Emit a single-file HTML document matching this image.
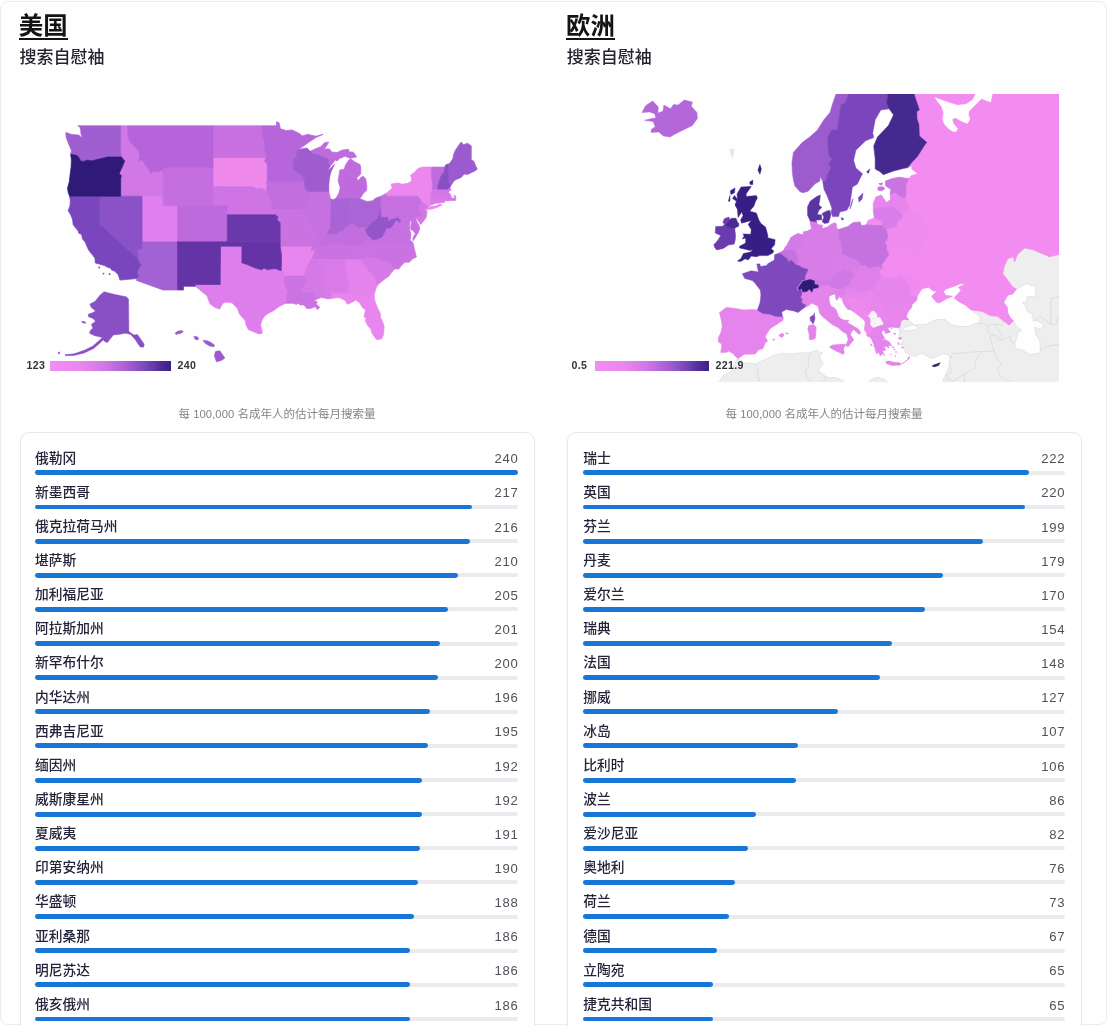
<!DOCTYPE html>
<html lang="zh"><head><meta charset="utf-8"><title>搜索自慰袖 – 美国 / 欧洲</title>
<style>
html,body{margin:0;padding:0;background:#fff;}
body{width:1108px;height:1026px;overflow:hidden;position:relative;font-family:"Liberation Sans","Noto Sans CJK SC",sans-serif;}
.page{position:absolute;left:0;top:0;width:1108px;height:1026px;overflow:hidden;background:#fefefe;}
.page:before{content:"";position:absolute;left:0;top:0.5px;width:1106.5px;height:1024.3px;border:1px solid #ededf0;border-radius:8px;box-sizing:border-box;}
.zh{position:absolute;display:block;color:#23233a;font-weight:500;white-space:nowrap;overflow:visible;line-height:1;font-family:"Liberation Sans","Noto Sans CJK SC",sans-serif;}
.zh.title{color:#141414;font-weight:bold;}
.zh.sub{color:#24242e;}
.zhi{position:relative;display:inline-block;color:#858588;white-space:nowrap;overflow:visible;line-height:1;vertical-align:top;font-family:"Liberation Sans","Noto Sans CJK SC",sans-serif;}
.uline{position:absolute;height:2.2px;background:#141414;}
.cap{position:absolute;text-align:center;white-space:nowrap;color:#858588;font-size:11.2px;line-height:11.5px;height:12px;}
.capn{display:inline-block;vertical-align:top;letter-spacing:0.1px;}
.card{position:absolute;box-sizing:border-box;border:1px solid #e6e8ec;border-radius:9px;background:#fff;box-shadow:0 1px 2px rgba(0,0,0,0.03);}
.num{position:absolute;text-align:right;font-size:13.1px;line-height:14px;color:#505058;letter-spacing:0.75px;margin-right:-0.75px;}
.track{position:absolute;height:4px;border-radius:2px;background:#e9ebee;}
.track i{position:absolute;left:0;top:-0.45px;height:4.9px;border-radius:2.45px;background:#1876d7;display:block;}
.lgbar{position:absolute;height:10px;background:linear-gradient(90deg,#f28ef1 0%,#ea87ee 25%,#d277e5 45%,#b566d9 58%,#9556ca 70%,#7342b4 81%,#522e9c 91%,#3a1f84 100%);}
.lgt{position:absolute;font-size:10.6px;line-height:12px;font-weight:bold;color:#333338;letter-spacing:0.35px;white-space:nowrap;}
svg.map{position:absolute;overflow:hidden;}
.blur{filter:blur(0.55px);}

</style></head>
<body>
<div class="page blur">
<span class="zh title" style="left:18.80px;top:14.00px;width:48.80px;height:24.40px;font-size:24.40px">美国</span>
<div class="uline" style="left:18.8px;top:37.6px;width:48.8px"></div>
<span class="zh sub" style="left:19.40px;top:49.40px;width:85.25px;height:17.05px;font-size:17.05px">搜索自慰袖</span>
<svg class="map" style="left:0;top:80px" width="554" height="300" viewBox="0 80 554 300"><g stroke-width="0.7" stroke-linejoin="round">
<path d="M266.4,157.6L213.1,157.6L213.1,167.1L213.1,186.6L252.6,186.7L256.9,188.8L261.9,188.1L265.4,190.5L267.2,191.5L265.9,189.0L267.2,186.2L266.1,181.8L267.2,181.8L267.2,164.1L264.4,161.1Z" fill="#ef8aec" stroke="#ef8aec" aria-label="SD"/>
<path d="M386.0,193.6L392.2,188.1L391.1,184.0L398.6,183.1L402.1,184.2L407.8,183.3L411.4,181.3L411.4,176.9L410.3,175.5L414.2,172.5L417.8,168.6L422.1,167.1L431.7,167.1L431.3,171.5L431.3,176.9L432.4,180.8L432.3,189.0L430.6,195.7L430.6,202.8L429.0,204.6L429.6,205.6L428.5,207.4L432.0,206.3L437.0,205.8L439.2,204.2L442.2,204.9L437.7,207.2L432.0,209.0L427.4,209.6L426.9,208.4L427.8,205.6L422.1,202.2L419.4,198.3L417.4,196.2L386.0,196.2Z" fill="#ec87ef" stroke="#ec87ef" aria-label="NY"/>
<path d="M315.3,250.5L310.5,250.5L312.1,246.2L280.2,246.2L281.6,255.7L281.2,270.8L284.4,271.5L284.4,276.1L304.8,276.1L305.3,270.3L306.4,266.9L308.9,263.5L311.0,259.2L312.4,258.3L313.5,254.4Z" fill="#e985ee" stroke="#e985ee" aria-label="AR"/>
<path d="M348.7,292.7L349.7,295.2L368.7,296.3L369.7,297.9L370.5,294.4L374.0,295.0L375.1,301.7L377.6,308.2L380.4,313.4L380.4,317.0L382.9,322.5L384.1,326.5L383.6,334.3L381.5,339.0L376.5,339.6L372.2,333.6L370.8,328.9L368.0,326.1L365.1,320.2L366.5,318.2L364.0,317.0L365.5,309.8L362.3,307.4L360.1,303.3L355.9,300.1L353.0,301.7L348.7,304.1L346.6,303.5L345.9,301.3L343.8,299.7L338.8,297.6L334.5,298.1L330.9,298.6L331.7,295.6L330.2,292.7Z" fill="#e985ee" stroke="#e985ee" aria-label="FL"/>
<path d="M344.5,259.2L353.6,259.2L362.3,259.2L360.5,261.7L364.0,263.9L366.2,267.7L368.7,271.1L373.7,275.7L375.1,279.9L376.5,283.7L378.3,284.2L376.2,287.8L375.1,291.5L374.0,295.0L370.5,294.4L369.7,297.9L368.7,296.3L349.7,295.2L348.7,292.7L348.0,287.8L349.1,282.0L347.5,277.4Z" fill="#e483ec" stroke="#e483ec" aria-label="GA"/>
<path d="M142.0,196.2L142.0,241.8L177.5,241.8L177.5,205.6L163.3,205.6L163.3,196.2Z" fill="#e07fef" stroke="#e07fef" aria-label="UT"/>
<path d="M220.6,246.2L241.9,246.2L241.9,262.9L247.6,264.7L252.6,266.9L256.9,268.6L261.9,269.8L264.0,268.1L267.6,269.8L271.1,269.0L275.4,268.7L281.2,270.8L284.4,271.5L284.4,276.1L284.4,284.5L287.9,291.1L286.8,296.0L286.8,300.1L285.7,303.3L279.7,306.2L276.8,308.2L274.7,310.0L269.0,313.0L264.7,315.8L261.9,320.2L260.5,324.9L261.9,330.4L262.2,333.2L259.0,333.9L254.8,332.2L248.3,329.6L245.9,324.5L245.5,321.0L239.8,314.6L237.3,308.2L232.0,302.8L225.6,302.0L222.7,303.5L219.5,309.2L213.5,306.6L209.9,303.7L207.1,296.0L199.2,289.4L195.4,286.3L194.8,284.5L220.2,284.5Z" fill="#de7eec" stroke="#de7eec" aria-label="TX"/>
<path d="M326.0,259.2L344.5,259.2L347.5,277.4L349.1,282.0L348.0,287.8L348.7,292.7L330.2,292.7L331.7,295.6L330.9,298.6L327.7,298.9L326.3,298.5L324.5,298.1L324.0,285.3L326.7,260.0Z" fill="#d87be8" stroke="#d87be8" aria-label="AL"/>
<path d="M429.6,205.6L429.0,204.6L430.6,202.8L430.6,195.7L442.7,196.0L442.4,202.6L439.2,203.0L434.9,203.2L433.5,204.0Z" fill="#d87be8" stroke="#d87be8" aria-label="CT"/>
<path d="M442.4,202.6L442.7,196.0L445.7,196.0L447.6,200.9L446.6,200.9L445.6,199.5L444.9,202.1Z" fill="#d87be8" stroke="#d87be8" aria-label="RI"/>
<path d="M311.0,259.2L326.0,259.2L326.7,260.0L324.0,285.3L324.5,298.1L321.0,297.6L316.3,299.4L314.2,295.6L315.1,292.7L301.7,292.7L302.5,287.8L305.3,283.7L306.4,280.3L304.8,276.1L305.3,270.3L306.4,266.9L308.9,263.5Z" fill="#d579e7" stroke="#d579e7" aria-label="MS"/>
<path d="M362.3,259.2L367.3,257.5L376.9,257.9L377.7,258.3L378.8,260.7L386.7,260.9L394.7,268.9L390.7,273.6L389.0,276.1L385.1,278.8L381.1,282.0L378.3,284.2L376.5,283.7L375.1,279.9L373.7,275.7L368.7,271.1L366.2,267.7L364.0,263.9L360.5,261.7Z" fill="#d579e7" stroke="#d579e7" aria-label="SC"/>
<path d="M120.7,125.8L120.6,152.8L121.5,157.0L123.0,159.1L124.7,161.1L123.0,165.1L122.0,167.6L119.8,172.0L119.3,174.0L121.4,175.5L120.7,178.6L120.7,196.2L142.0,196.2L163.3,196.2L163.3,172.3L161.1,169.9L160.1,171.6L154.4,171.4L150.4,173.2L148.7,169.3L146.2,166.5L142.7,160.2L138.3,161.5L139.8,157.0L138.1,150.6L135.5,147.5L130.2,142.1L127.7,136.6L127.7,125.8Z" fill="#d277e6" stroke="#d277e6" aria-label="ID"/>
<path d="M422.1,202.2L419.0,205.8L418.5,208.8L419.6,211.1L421.9,213.4L419.2,215.6L416.9,216.7L416.0,218.0L418.5,221.2L420.7,224.6L424.2,220.3L426.3,217.1L427.1,210.9L425.3,210.2L426.9,208.4L427.8,205.6Z" fill="#d277e6" stroke="#d277e6" aria-label="NJ"/>
<path d="M430.6,195.7L432.3,189.0L438.0,189.2L446.6,189.2L449.8,187.9L451.3,190.0L449.1,190.9L448.4,193.3L450.2,193.8L450.9,196.2L452.0,198.3L455.2,198.1L453.8,195.7L455.2,195.7L455.9,197.1L455.5,200.4L450.9,200.4L447.6,200.9L445.7,196.0L442.7,196.0Z" fill="#d277e6" stroke="#d277e6" aria-label="MA"/>
<path d="M267.2,191.5L265.4,190.5L261.9,188.1L256.9,188.8L252.6,186.7L213.1,186.6L213.1,205.6L227.3,205.6L227.3,214.8L275.3,214.8L272.1,209.5L271.5,208.4L271.1,203.7L269.7,199.5L268.6,196.2Z" fill="#cf74e4" stroke="#cf74e4" aria-label="NE"/>
<path d="M304.8,276.1L284.4,276.1L284.4,284.5L287.9,291.1L286.8,296.0L286.8,300.1L285.7,303.3L292.5,303.3L296.8,304.5L298.2,302.9L300.0,305.0L303.9,305.0L306.7,308.6L311.7,308.2L314.9,306.6L317.4,309.4L319.9,307.4L316.3,304.1L317.4,302.1L314.2,300.5L316.3,299.4L314.2,295.6L315.1,292.7L301.7,292.7L302.5,287.8L305.3,283.7L306.4,280.3Z" fill="#cc73e3" stroke="#cc73e3" aria-label="LA"/>
<path d="M303.0,211.3L300.8,209.2L272.1,209.5L275.3,214.8L278.3,217.1L276.8,218.9L278.3,220.8L280.2,223.0L280.2,241.8L280.2,246.2L312.1,246.2L310.5,250.5L315.3,250.5L316.0,247.9L317.4,246.2L319.5,242.2L319.3,241.8L316.7,239.1L316.3,235.6L311.7,229.3L311.7,225.7L308.2,223.9L306.0,220.3L302.8,215.3Z" fill="#cb72e2" stroke="#cb72e2" aria-label="MO"/>
<path d="M317.4,246.2L327.0,246.2L327.0,244.6L358.1,245.3L372.4,245.4L369.4,249.7L365.8,250.5L362.3,252.5L359.4,254.3L355.5,255.7L353.6,259.2L344.5,259.2L326.0,259.2L311.0,259.2L312.4,258.3L313.5,254.4L315.3,250.5L316.0,247.9Z" fill="#cb72e2" stroke="#cb72e2" aria-label="TN"/>
<path d="M372.4,245.4L413.7,245.7L414.6,249.7L416.4,257.0L412.8,258.7L409.3,262.2L405.0,262.2L401.4,265.6L398.9,269.0L394.7,268.9L386.7,260.9L378.8,260.7L377.7,258.3L376.9,257.9L367.3,257.5L362.3,259.2L353.6,259.2L355.5,255.7L359.4,254.3L362.3,252.5L365.8,250.5L369.4,249.7Z" fill="#cb72e2" stroke="#cb72e2" aria-label="NC"/>
<path d="M328.8,191.5L308.5,191.4L312.1,195.2L311.7,198.1L310.3,200.4L305.7,201.8L306.4,204.2L305.3,207.4L303.0,211.3L302.8,215.3L306.0,220.3L308.2,223.9L311.7,225.7L311.7,229.3L316.3,235.6L316.7,239.1L319.3,241.8L323.8,240.9L324.2,238.3L327.0,234.7L327.7,231.1L330.9,228.4L330.2,224.8L330.7,220.8L330.8,199.0L329.9,196.6Z" fill="#c770e1" stroke="#c770e1" aria-label="IL"/>
<path d="M372.4,245.4L358.1,245.3L361.9,244.0L365.1,241.3L368.0,239.1L370.3,237.0L372.6,240.0L375.4,239.6L377.9,239.1L382.2,236.9L386.8,227.5L390.0,228.4L392.4,226.1L396.1,219.8L399.8,222.8L400.6,221.0L402.1,222.1L405.4,225.7L403.6,228.4L405.7,230.2L410.7,233.4L410.7,237.4L410.0,240.0L412.8,242.2L413.7,245.7Z M413.2,240.7L415.7,236.9L418.2,232.7L415.3,233.4L412.8,238.3Z" fill="#c770e1" stroke="#c770e1" aria-label="VA"/>
<path d="M388.0,217.4L414.3,217.4L415.0,228.9L419.6,228.9L418.2,232.7L415.3,233.4L413.5,231.1L410.7,229.3L410.7,225.7L411.8,220.3L410.0,221.2L409.3,225.7L409.8,230.2L410.7,233.4L405.7,230.2L403.6,228.4L405.4,225.7L402.1,222.1L400.6,221.0L399.6,218.9L397.2,217.6L395.4,218.5L390.7,219.7L388.0,222.1Z" fill="#c770e1" stroke="#c770e1" aria-label="MD"/>
<path d="M419.6,228.9L415.0,228.9L414.3,217.4L415.7,216.4L416.9,216.7L416.0,218.0L416.0,219.8L417.1,222.1L419.2,225.7Z" fill="#c770e1" stroke="#c770e1" aria-label="DE"/>
<path d="M213.1,125.8L213.1,157.6L266.4,157.6L266.1,154.0L264.7,150.4L264.4,141.6L262.6,136.4L262.2,130.1L261.7,125.8Z" fill="#c86fe1" stroke="#c86fe1" aria-label="ND"/>
<path d="M380.6,196.4L380.6,208.9L380.6,217.4L388.0,217.4L414.3,217.4L415.7,216.4L416.9,216.7L419.2,215.6L421.9,213.4L419.6,211.1L418.5,208.8L419.0,205.8L422.1,202.2L419.4,198.3L417.4,196.2L386.0,196.2L386.0,193.6L383.6,194.8Z" fill="#c56fe0" stroke="#c56fe0" aria-label="PA"/>
<path d="M163.3,172.3L163.3,196.2L163.3,205.6L177.5,205.6L213.1,205.6L213.1,186.6L213.1,167.1L163.3,167.1Z" fill="#c46ee0" stroke="#c46ee0" aria-label="WY"/>
<path d="M304.5,181.8L267.2,181.8L266.1,181.8L267.2,186.2L265.9,189.0L267.2,191.5L268.6,196.2L269.7,199.5L271.1,203.7L271.5,208.4L272.1,209.5L300.8,209.2L303.0,211.3L305.3,207.4L306.4,204.2L305.7,201.8L310.3,200.4L311.7,198.1L312.1,195.2L308.5,191.4L305.3,189.0L304.6,185.2Z" fill="#c36ede" stroke="#c36ede" aria-label="IA"/>
<path d="M327.0,234.7L330.2,233.4L333.8,234.7L338.1,233.4L339.5,231.6L343.0,230.5L345.5,226.6L347.3,226.6L350.0,223.0L352.3,223.0L354.1,225.3L358.0,227.1L360.8,227.5L364.0,226.4L365.8,229.2L365.8,231.1L368.0,235.6L370.3,237.0L368.0,239.1L365.1,241.3L361.9,244.0L358.1,245.3L327.0,244.6L327.0,246.2L317.4,246.2L319.5,242.2L319.3,241.8L323.8,240.9L324.2,238.3Z" fill="#c36ede" stroke="#c36ede" aria-label="KY"/>
<path d="M432.3,189.0L432.4,180.8L431.3,176.9L431.3,171.5L431.7,167.1L444.9,167.1L444.1,172.0L440.9,176.0L439.9,179.4L438.5,183.3L437.4,187.6L438.0,189.2Z" fill="#c16cde" stroke="#c16cde" aria-label="VT"/>
<path d="M335.8,198.4L338.8,193.3L340.2,187.6L338.1,180.8L339.8,170.1L344.5,169.1L345.2,165.6L348.7,160.1L350.7,159.1L355.1,162.1L360.1,164.6L360.8,168.1L360.8,174.0L356.6,177.9L358.0,180.8L360.8,177.4L363.3,176.3L365.8,178.9L366.9,186.6L366.5,190.5L363.7,192.9L361.9,195.7L359.8,198.7L350.2,198.4Z M310.3,151.2L316.0,148.6L320.6,146.8L324.5,142.7L328.8,142.0L326.0,146.8L324.2,148.9L329.5,148.9L331.7,152.0L337.3,152.5L341.6,150.2L348.7,149.2L349.1,152.0L353.0,152.0L355.1,154.5L356.6,157.0L353.4,157.5L350.5,158.4L345.2,156.2L339.5,158.6L337.3,160.9L334.9,159.9L333.8,162.1L330.2,166.1L328.8,163.6L328.4,159.6L326.3,157.5L321.7,156.7L319.5,155.5L312.3,153.5Z" fill="#bf6bde" stroke="#bf6bde" aria-label="MI"/>
<path d="M177.5,205.6L177.5,241.8L220.6,241.8L227.3,241.8L227.3,214.8L227.3,205.6L213.1,205.6Z" fill="#bd6bdc" stroke="#bd6bdc" aria-label="CO"/>
<path d="M323.1,134.3L316.0,136.2L307.4,134.3L302.5,135.9L298.9,133.2L292.1,129.9L286.1,130.6L280.4,128.8L279.0,122.6L276.5,121.7L276.5,125.8L261.7,125.8L262.2,130.1L262.6,136.4L264.4,141.6L264.7,150.4L266.1,154.0L266.4,157.6L264.4,161.1L267.2,164.1L267.2,181.8L304.5,181.8L304.2,178.4L299.6,173.5L293.2,169.6L293.6,166.1L292.5,161.1L296.8,156.0L296.8,150.4L298.2,149.4L302.5,146.8L308.9,142.2L316.0,137.5Z" fill="#b666da" stroke="#b666da" aria-label="MN"/>
<path d="M127.7,125.8L127.7,136.6L130.2,142.1L135.5,147.5L138.1,150.6L139.8,157.0L138.3,161.5L142.7,160.2L146.2,166.5L148.7,169.3L150.4,173.2L154.4,171.4L160.1,171.6L161.1,169.9L163.3,172.3L163.3,167.1L213.1,167.1L213.1,157.6L213.1,125.8Z" fill="#b565d9" stroke="#b565d9" aria-label="MT"/>
<path d="M350.0,223.0L350.2,198.4L359.8,198.7L363.0,199.9L365.1,200.9L367.3,201.4L372.2,200.9L375.8,198.1L380.6,196.4L380.6,208.9L379.7,213.0L378.3,217.1L375.8,220.3L371.9,222.1L371.9,223.9L368.7,225.3L368.7,227.5L365.8,229.2L364.0,226.4L360.8,227.5L358.0,227.1L354.1,225.3L352.3,223.0Z" fill="#ab64d6" stroke="#ab64d6" aria-label="OH"/>
<path d="M330.8,199.0L330.7,220.8L330.2,224.8L330.9,228.4L327.7,231.1L327.0,234.7L330.2,233.4L333.8,234.7L338.1,233.4L339.5,231.6L343.0,230.5L345.5,226.6L347.3,226.6L350.0,223.0L350.2,198.4L335.8,198.4L333.1,199.7Z" fill="#a963d5" stroke="#a963d5" aria-label="IN"/>
<path d="M142.0,241.8L141.9,248.8L136.9,249.7L138.2,254.9L137.8,259.2L139.4,262.6L141.3,265.2L138.7,268.6L137.1,272.8L138.7,276.1L137.1,278.5L136.5,280.4L163.1,290.0L177.5,290.0L177.5,241.8Z" fill="#a362d4" stroke="#a362d4" aria-label="AZ"/>
<path d="M77.8,125.8L79.6,126.3L80.7,130.1L81.0,134.3L82.1,137.5L80.7,136.9L78.9,135.1L71.8,134.6L65.9,132.4L66.2,137.5L68.6,143.7L70.3,147.9L71.4,150.4L70.7,154.3L75.0,155.0L77.1,155.5L79.2,158.1L80.3,160.9L83.9,161.4L87.4,160.1L91.4,160.9L95.3,159.9L99.5,159.1L104.5,157.7L106.8,157.0L121.5,157.0L120.6,152.8L120.7,125.8Z" fill="#a05fd1" stroke="#a05fd1" aria-label="WA"/>
<path d="M298.2,149.4L296.8,150.4L296.8,156.0L292.5,161.1L293.6,166.1L293.2,169.6L299.6,173.5L304.2,178.4L304.5,181.8L304.6,185.2L305.3,189.0L308.5,191.4L328.8,191.5L328.8,184.7L329.5,177.9L330.9,172.0L334.5,164.1L330.2,168.6L327.4,171.5L330.2,166.1L328.8,163.6L328.4,159.6L326.3,157.5L321.7,156.7L319.5,155.5L312.3,153.5L310.3,151.2L306.7,147.9L304.6,148.4Z" fill="#9e5ccf" stroke="#9e5ccf" aria-label="WI"/>
<path d="M450.6,186.0L448.6,182.8L448.4,174.0L447.9,164.1L449.5,163.6L452.7,159.1L453.8,154.0L455.5,149.9L461.1,142.1L463.4,144.8L467.6,143.2L471.3,146.1L471.2,160.1L473.7,161.1L475.5,165.6L477.3,169.1L474.8,171.0L470.5,173.0L467.6,174.5L464.1,174.0L461.2,177.4L456.3,179.4L454.1,180.8Z" fill="#9b5bcf" stroke="#9b5bcf" aria-label="ME"/>
<path d="M380.6,208.9L379.7,213.0L378.3,217.1L375.8,220.3L371.9,222.1L371.9,223.9L368.7,225.3L368.7,227.5L365.8,229.2L365.8,231.1L368.0,235.6L370.3,237.0L372.6,240.0L375.4,239.6L377.9,239.1L382.2,236.9L386.8,227.5L390.0,228.4L392.4,226.1L396.1,219.8L399.8,222.8L400.6,221.0L399.6,218.9L397.2,217.6L395.4,218.5L390.7,219.7L388.0,222.1L388.0,217.4L380.6,217.4Z" fill="#9355c9" stroke="#9355c9" aria-label="WV"/>
<path d="M120.7,196.2L99.5,196.2L99.5,223.9L137.8,259.2L138.2,254.9L136.9,249.7L141.9,248.8L142.0,241.8L142.0,196.2Z" fill="#8a52c6" stroke="#8a52c6" aria-label="NV"/>
<path d="M438.0,189.2L437.4,187.6L438.5,183.3L439.9,179.4L440.9,176.0L444.1,172.0L444.9,167.1L445.6,164.9L447.9,164.1L448.4,174.0L448.6,182.8L450.6,186.0L449.8,187.9L446.6,189.2Z" fill="#8a4fc5" stroke="#8a4fc5" aria-label="NH"/>
<path d="M99.5,196.2L69.6,196.2L70.3,200.9L70.0,205.6L68.2,210.7L70.7,214.8L72.5,219.4L73.2,224.8L78.2,231.1L78.5,232.9L81.7,234.7L82.5,239.1L85.3,242.2L86.4,245.3L88.9,250.5L93.1,255.7L94.9,258.3L95.3,263.0L98.8,263.9L104.5,265.6L108.1,267.5L110.6,268.1L111.6,270.1L114.5,271.1L118.1,274.5L119.1,277.4L120.0,280.1L137.1,278.5L138.7,276.1L137.1,272.8L138.7,268.6L141.3,265.2L139.4,262.6L137.8,259.2L99.5,223.9Z" fill="#7a46bd" stroke="#7a46bd" aria-label="CA"/>
<path d="M227.3,214.8L275.3,214.8L278.3,217.1L276.8,218.9L278.3,220.8L280.2,223.0L280.2,241.8L227.3,241.8Z" fill="#6b38ab" stroke="#6b38ab" aria-label="KS"/>
<path d="M177.5,241.8L177.5,290.0L183.5,290.0L183.5,286.3L195.4,286.3L194.8,284.5L220.2,284.5L220.6,246.2L220.6,241.8Z" fill="#6434a6" stroke="#6434a6" aria-label="NM"/>
<path d="M227.3,241.8L280.2,241.8L280.2,246.2L281.6,255.7L281.2,270.8L275.4,268.7L271.1,269.0L267.6,269.8L264.0,268.1L261.9,269.8L256.9,268.6L252.6,266.9L247.6,264.7L241.9,262.9L241.9,246.2L220.6,246.2L220.6,241.8Z" fill="#6434a6" stroke="#6434a6" aria-label="OK"/>
<path d="M121.5,157.0L106.8,157.0L104.5,157.7L99.5,159.1L95.3,159.9L91.4,160.9L87.4,160.1L83.9,161.4L80.3,160.9L79.2,158.1L77.1,155.5L75.0,155.0L70.7,154.3L71.4,160.1L71.1,167.1L70.3,173.0L69.3,181.8L67.5,188.1L68.2,192.4L69.6,196.2L99.5,196.2L120.7,196.2L120.7,178.6L121.4,175.5L119.3,174.0L119.8,172.0L122.0,167.6L123.0,165.1L124.7,161.1L123.0,159.1Z" fill="#2f1a78" stroke="#2f1a78" aria-label="OR"/>
<path d="M104.0,291.7L115.2,294.6L126.3,296.8L128.6,298.9L128.9,331.5L134.0,334.9L137.5,334.5L144.3,344.3L143.5,347.2L140.1,346.9L134.9,339.2L130.6,334.5L125.5,333.2L118.6,334.5L113.5,334.9L110.0,339.2L107.5,342.6L104.9,341.7L103.2,340.0L101.5,341.7L93.7,348.6L84.3,352.9L74.0,355.5L65.4,355.8L65.1,354.6L74.0,353.8L84.3,350.3L92.9,346.0L99.7,340.0L102.3,337.5L94.6,335.7L89.5,333.2L90.3,330.6L92.9,328.0L91.2,324.6L95.5,321.2L92.9,318.6L88.6,316.9L88.1,314.3L92.9,312.6L95.5,310.9L91.2,307.4L89.8,304.0L94.9,301.4L99.7,295.4Z M81.7,321.2L85.2,321.7L85.7,323.2L82.6,322.9Z M58.2,352.0L59.6,352.0L59.6,353.8L58.2,353.8Z" fill="#8950c6" stroke="#8950c6" stroke-width="0.4" aria-label="AK"/>
<path d="M174.9,333.2L177.8,331.1L182.1,330.4L183.4,332.0L180.4,333.5L176.1,334.5Z M193.7,336.6L196.7,336.3L198.9,338.3L197.9,340.0L194.9,339.3Z M202.7,340.4L206.9,340.4L211.2,342.6L214.7,345.2L213.8,346.9L209.5,346.0L205.2,343.5Z M215.5,351.2L219.8,350.7L225.0,358.0L221.5,360.6L216.4,362.0L214.2,355.5Z" fill="#9a5ace" stroke="#9a5ace" stroke-width="0.4" aria-label="HI"/>
<circle cx="99.2" cy="267.5" r="0.9" fill="#7a46bd" stroke="none"/>
<circle cx="103.5" cy="273.6" r="0.9" fill="#7a46bd" stroke="none"/>
<circle cx="109.6" cy="274.2" r="0.9" fill="#7a46bd" stroke="none"/>
</g></svg>
<div class="lgbar" style="left:50px;top:361px;width:121px"></div>
<div class="lgt" style="left:26.5px;top:359.2px">123</div>
<div class="lgt" style="left:177.5px;top:359.2px">240</div>
<div class="cap" style="left:127px;top:409.2px;width:300px"><span class="zhi" style="width:11.50px;height:11.50px;font-size:11.50px">每</span><span class="capn">&nbsp;100,000&nbsp;</span><span class="zhi" style="width:138.00px;height:11.50px;font-size:11.50px">名成年人的估计每月搜索量</span></div>
<div class="card" style="left:19.5px;top:432px;width:515.5px;height:640px"></div>
<span class="zh " style="left:34.90px;top:451.60px;width:41.25px;height:13.75px;font-size:13.75px">俄勒冈</span>
<div class="num" style="left:458.5px;top:452.30px;width:60px">240</div>
<div class="track" style="left:35.2px;top:470.80px;width:483.3px"><i style="width:483.3px"></i></div>
<span class="zh " style="left:34.90px;top:485.74px;width:55.00px;height:13.75px;font-size:13.75px">新墨西哥</span>
<div class="num" style="left:458.5px;top:486.44px;width:60px">217</div>
<div class="track" style="left:35.2px;top:504.94px;width:483.3px"><i style="width:437.0px"></i></div>
<span class="zh " style="left:34.90px;top:519.88px;width:82.50px;height:13.75px;font-size:13.75px">俄克拉荷马州</span>
<div class="num" style="left:458.5px;top:520.58px;width:60px">216</div>
<div class="track" style="left:35.2px;top:539.08px;width:483.3px"><i style="width:435.0px"></i></div>
<span class="zh " style="left:34.90px;top:554.02px;width:41.25px;height:13.75px;font-size:13.75px">堪萨斯</span>
<div class="num" style="left:458.5px;top:554.72px;width:60px">210</div>
<div class="track" style="left:35.2px;top:573.22px;width:483.3px"><i style="width:422.9px"></i></div>
<span class="zh " style="left:34.90px;top:588.16px;width:68.75px;height:13.75px;font-size:13.75px">加利福尼亚</span>
<div class="num" style="left:458.5px;top:588.86px;width:60px">205</div>
<div class="track" style="left:35.2px;top:607.36px;width:483.3px"><i style="width:412.8px"></i></div>
<span class="zh " style="left:34.90px;top:622.30px;width:68.75px;height:13.75px;font-size:13.75px">阿拉斯加州</span>
<div class="num" style="left:458.5px;top:623.00px;width:60px">201</div>
<div class="track" style="left:35.2px;top:641.50px;width:483.3px"><i style="width:404.8px"></i></div>
<span class="zh " style="left:34.90px;top:656.44px;width:68.75px;height:13.75px;font-size:13.75px">新罕布什尔</span>
<div class="num" style="left:458.5px;top:657.14px;width:60px">200</div>
<div class="track" style="left:35.2px;top:675.64px;width:483.3px"><i style="width:402.8px"></i></div>
<span class="zh " style="left:34.90px;top:690.58px;width:55.00px;height:13.75px;font-size:13.75px">内华达州</span>
<div class="num" style="left:458.5px;top:691.28px;width:60px">196</div>
<div class="track" style="left:35.2px;top:709.78px;width:483.3px"><i style="width:394.7px"></i></div>
<span class="zh " style="left:34.90px;top:724.72px;width:68.75px;height:13.75px;font-size:13.75px">西弗吉尼亚</span>
<div class="num" style="left:458.5px;top:725.42px;width:60px">195</div>
<div class="track" style="left:35.2px;top:743.92px;width:483.3px"><i style="width:392.7px"></i></div>
<span class="zh " style="left:34.90px;top:758.86px;width:41.25px;height:13.75px;font-size:13.75px">缅因州</span>
<div class="num" style="left:458.5px;top:759.56px;width:60px">192</div>
<div class="track" style="left:35.2px;top:778.06px;width:483.3px"><i style="width:386.6px"></i></div>
<span class="zh " style="left:34.90px;top:793.00px;width:68.75px;height:13.75px;font-size:13.75px">威斯康星州</span>
<div class="num" style="left:458.5px;top:793.70px;width:60px">192</div>
<div class="track" style="left:35.2px;top:812.20px;width:483.3px"><i style="width:386.6px"></i></div>
<span class="zh " style="left:34.90px;top:827.14px;width:41.25px;height:13.75px;font-size:13.75px">夏威夷</span>
<div class="num" style="left:458.5px;top:827.84px;width:60px">191</div>
<div class="track" style="left:35.2px;top:846.34px;width:483.3px"><i style="width:384.6px"></i></div>
<span class="zh " style="left:34.90px;top:861.28px;width:68.75px;height:13.75px;font-size:13.75px">印第安纳州</span>
<div class="num" style="left:458.5px;top:861.98px;width:60px">190</div>
<div class="track" style="left:35.2px;top:880.48px;width:483.3px"><i style="width:382.6px"></i></div>
<span class="zh " style="left:34.90px;top:895.42px;width:41.25px;height:13.75px;font-size:13.75px">华盛顿</span>
<div class="num" style="left:458.5px;top:896.12px;width:60px">188</div>
<div class="track" style="left:35.2px;top:914.62px;width:483.3px"><i style="width:378.6px"></i></div>
<span class="zh " style="left:34.90px;top:929.56px;width:55.00px;height:13.75px;font-size:13.75px">亚利桑那</span>
<div class="num" style="left:458.5px;top:930.26px;width:60px">186</div>
<div class="track" style="left:35.2px;top:948.76px;width:483.3px"><i style="width:374.6px"></i></div>
<span class="zh " style="left:34.90px;top:963.70px;width:55.00px;height:13.75px;font-size:13.75px">明尼苏达</span>
<div class="num" style="left:458.5px;top:964.40px;width:60px">186</div>
<div class="track" style="left:35.2px;top:982.90px;width:483.3px"><i style="width:374.6px"></i></div>
<span class="zh " style="left:34.90px;top:997.84px;width:55.00px;height:13.75px;font-size:13.75px">俄亥俄州</span>
<div class="num" style="left:458.5px;top:998.54px;width:60px">186</div>
<div class="track" style="left:35.2px;top:1017.04px;width:483.3px"><i style="width:374.6px"></i></div>
<span class="zh title" style="left:566.10px;top:14.00px;width:48.80px;height:24.40px;font-size:24.40px">欧洲</span>
<div class="uline" style="left:566.1px;top:37.6px;width:48.8px"></div>
<span class="zh sub" style="left:566.70px;top:49.40px;width:85.25px;height:17.05px;font-size:17.05px">搜索自慰袖</span>
<svg class="map" style="left:630px;top:94.1px" width="428.5" height="287.9" viewBox="630 94.1 428.5 287.9">
<g stroke-linejoin="round">
<path d="M898.8,328.1L900.4,324.8L900.4,321.8L903.7,319.4L908.7,319.8L913.8,324.8L906.2,326.8L902.1,329.8L899.6,332.8Z M899.6,333.1L902.1,330.8L906.2,330.8L913.8,330.1L918.4,328.1L914.3,325.1L926.0,324.5L935.7,319.8L944.8,319.4L950.9,324.5L959.5,326.8L968.2,326.5L977.6,323.0L982.4,323.5L987.2,325.8L988.2,332.4L992.6,335.1L990.0,337.0L994.1,351.5L981.6,351.5L959.5,353.4L952.9,353.7L950.1,359.6L948.9,354.9L942.3,353.7L934.1,358.0L930.6,358.0L921.9,353.4L914.3,356.8L909.8,354.6L905.2,352.4L904.7,348.0L900.1,344.1L903.2,343.2L902.1,339.6L899.1,336.7Z" fill="#eeeeef" stroke="#d9d9db" stroke-width="0.6" aria-label="TR"/>
<path d="M970.7,309.8L982.4,311.5L990.0,315.7L997.6,316.4L1002.7,320.4L1002.2,325.8L995.1,324.5L987.2,325.8L982.4,323.5L978.6,323.0L980.4,318.4L977.3,314.0Z" fill="#eeeeef" stroke="#d9d9db" stroke-width="0.6" aria-label="GE"/>
<path d="M987.2,325.8L995.1,324.5L997.6,328.5L1002.7,336.4L1000.7,340.6L997.6,336.4L992.6,335.1L988.2,332.4Z" fill="#eeeeef" stroke="#d9d9db" stroke-width="0.6" aria-label="AM"/>
<path d="M1002.7,320.4L1009.3,325.1L1013.4,320.8L1016.4,326.5L1022.0,330.8L1018.0,331.8L1016.9,337.7L1014.9,343.2L1010.3,340.9L1010.3,335.7L1002.7,340.3L1000.7,340.6L1002.7,336.4L997.6,328.5L995.1,324.5L1002.2,325.8Z M994.1,335.1L997.6,336.4L1000.7,340.6L997.1,339.6L992.6,335.1Z" fill="#eeeeef" stroke="#d9d9db" stroke-width="0.6" aria-label="AZ"/>
<path d="M1016.4,289.2L1012.9,287.4L1006.8,279.2L1002.7,273.9L1004.2,266.3L1007.8,258.5L1013.9,256.9L1014.4,262.0L1017.5,254.5L1024.6,248.1L1032.7,249.7L1038.3,252.1L1044.4,254.5L1049.5,256.9L1058.6,254.5L1063.7,252.9L1068.8,256.9L1071.3,255.3L1071.3,298.9L1064.2,295.3L1051.0,298.9L1051.0,324.5L1045.4,320.4L1040.8,317.0L1035.2,320.4L1033.2,321.1L1032.7,314.3L1027.1,311.5L1025.1,305.3L1022.0,302.5L1027.1,301.8L1027.1,296.8L1035.7,296.8L1035.7,285.2L1031.7,285.9L1026.6,283.7L1020.5,287.4Z" fill="#eeeeef" stroke="#d9d9db" stroke-width="0.6" aria-label="KZ"/>
<path d="M1051.0,298.9L1064.2,295.3L1071.3,298.9L1071.3,325.1L1063.7,315.7L1058.1,318.4L1056.1,324.5L1051.0,324.5Z" fill="#eeeeef" stroke="#d9d9db" stroke-width="0.6" aria-label="UZ"/>
<path d="M1035.2,320.4L1040.8,317.0L1045.4,320.4L1051.0,324.5L1056.1,324.5L1058.1,318.4L1063.7,315.7L1071.3,325.1L1071.3,352.4L1067.7,349.2L1057.1,344.8L1048.4,346.4L1040.3,350.2L1039.8,340.3L1035.7,334.4L1034.7,326.8L1038.8,329.1L1044.4,326.5L1040.3,322.5Z" fill="#eeeeef" stroke="#d9d9db" stroke-width="0.6" aria-label="TM"/>
<path d="M990.0,337.0L992.6,335.1L997.1,339.6L1000.7,340.6L1002.7,340.3L1010.3,335.7L1010.3,340.9L1014.9,343.2L1015.4,348.6L1022.0,349.9L1029.6,354.9L1040.3,353.0L1040.3,350.2L1048.4,346.4L1057.1,344.8L1067.7,349.2L1071.3,352.4L1071.3,388.9L1008.8,388.9L1008.8,381.2L1000.7,376.4L997.1,371.0L1001.2,364.2L996.6,358.7L994.1,351.5Z" fill="#eeeeef" stroke="#d9d9db" stroke-width="0.6" aria-label="IR"/>
<path d="M981.6,351.5L994.1,351.5L996.6,358.7L1001.2,364.2L997.1,371.0L1000.7,376.4L1008.8,381.2L1008.8,388.9L971.7,388.9L964.6,382.4L963.6,374.6L974.8,368.5L975.8,361.2L978.8,354.9Z" fill="#eeeeef" stroke="#d9d9db" stroke-width="0.6" aria-label="IQ"/>
<path d="M950.1,359.6L952.9,353.7L959.5,353.4L981.6,351.5L978.8,354.9L975.8,361.2L974.8,368.5L963.6,374.6L953.4,381.2L947.9,378.8L948.9,374.6L952.4,369.8L949.1,367.0L948.9,362.4Z" fill="#eeeeef" stroke="#d9d9db" stroke-width="0.6" aria-label="SY"/>
<path d="M944.8,376.4L949.1,367.0L952.4,369.8L948.9,374.6L947.9,375.5Z" fill="#eeeeef" stroke="#d9d9db" stroke-width="0.6" aria-label="LB"/>
<path d="M940.7,387.1L944.0,378.2L944.8,376.4L947.9,375.5L947.9,378.8L947.1,380.6L946.8,388.9Z M940.2,388.9L940.7,387.1L946.8,388.9Z" fill="#eeeeef" stroke="#d9d9db" stroke-width="0.6" aria-label="IL"/>
<path d="M947.1,380.6L947.9,378.8L953.4,381.2L963.6,374.6L964.6,382.4L954.5,385.9L954.5,388.9L946.8,388.9Z" fill="#eeeeef" stroke="#d9d9db" stroke-width="0.6" aria-label="JO"/>
<path d="M954.5,388.9L954.5,385.9L964.6,382.4L971.7,388.9Z" fill="#eeeeef" stroke="#d9d9db" stroke-width="0.6" aria-label="SA"/>
<path d="M893.5,388.9L893.5,385.3L903.7,386.5L913.8,388.9L920.4,387.1L924.0,385.3L929.1,386.5L934.1,388.3L940.2,387.7L940.2,388.9Z" fill="#eeeeef" stroke="#d9d9db" stroke-width="0.6" aria-label="EG"/>
<path d="M825.2,376.1L829.0,377.9L833.6,377.6L838.6,378.8L843.2,380.6L844.7,383.6L845.7,388.9L818.8,388.9L818.3,384.2L824.9,380.6Z M867.8,388.9L867.6,384.8L868.4,382.4L871.1,379.7L876.7,377.6L878.3,377.6L881.6,378.5L883.8,379.4L888.4,382.7L893.5,385.3L893.5,388.9Z" fill="#eeeeef" stroke="#d9d9db" stroke-width="0.6" aria-label="LY"/>
<path d="M810.2,352.7L816.5,350.5L818.8,351.5L818.8,354.0L822.6,352.1L819.8,356.2L820.6,359.9L822.9,363.3L821.1,366.4L817.8,371.6L821.9,372.5L822.9,374.0L825.2,376.1L824.9,380.6L818.3,384.2L818.8,388.9L814.8,388.9L812.2,382.4L808.7,379.4L804.6,372.2L808.2,366.7L808.7,359.9Z" fill="#eeeeef" stroke="#d9d9db" stroke-width="0.6" aria-label="TN"/>
<path d="M755.3,364.2L763.2,360.5L766.5,359.3L773.1,355.5L782.0,353.7L792.4,354.0L801.6,353.0L805.9,353.0L810.2,352.7L808.7,359.9L808.2,366.7L804.6,372.2L808.7,379.4L812.2,382.4L814.8,388.9L748.2,388.9L748.2,384.8L759.9,382.4L757.9,375.2L757.4,368.5Z" fill="#eeeeef" stroke="#d9d9db" stroke-width="0.6" aria-label="DZ"/>
<path d="M716.2,388.9L716.7,386.5L719.5,381.2L723.3,375.5L727.9,373.4L731.7,371.0L735.3,363.6L736.5,359.9L739.6,359.3L744.7,363.6L746.7,363.3L751.5,363.0L755.3,364.2L757.4,368.5L757.9,375.2L759.9,382.4L748.2,384.8L748.2,388.9Z" fill="#eeeeef" stroke="#d9d9db" stroke-width="0.6" aria-label="MA"/>
<path d="M729.9,149.2L734.0,149.2L732.5,157.8L730.9,153.5Z" fill="#e4e6e4" stroke="#e4e6e4" stroke-width="0.8" aria-label="FO"/>
<path d="M866.1,225.0L868.1,220.6L874.5,218.0L882.3,221.1L882.3,225.9Z M908.7,178.8L911.3,175.8L917.9,173.8L911.8,169.2L912.3,166.1L907.7,167.7L911.3,163.0L917.4,156.7L925.5,143.8L927.0,142.7L919.4,136.0L918.9,124.5L916.9,118.6L916.9,111.4L919.4,110.1L914.3,95.1L915.9,89.9L1071.3,89.9L1071.3,253.7L1068.8,256.9L1063.7,252.9L1058.6,254.5L1049.5,256.9L1044.4,254.5L1038.3,252.1L1032.7,249.7L1024.6,248.1L1017.5,254.5L1014.4,262.0L1013.9,256.9L1007.8,258.5L1004.2,266.3L1002.7,273.9L1006.8,279.2L1012.9,287.4L1016.4,289.2L1012.9,293.9L1007.8,295.3L1003.7,302.5L1007.3,307.4L1007.8,312.9L1010.3,317.7L1013.4,320.8L1009.3,325.1L1002.7,320.4L997.6,316.4L990.0,315.7L982.4,311.5L970.7,309.8L965.6,305.3L959.0,301.8L954.0,297.9L957.5,294.6L961.1,290.3L958.5,287.4L961.6,285.9L965.6,284.1L960.6,283.7L961.1,280.3L968.7,277.7L968.2,270.1L970.2,264.7L959.5,262.4L957.0,259.3L947.3,258.5L946.3,253.7L941.3,248.1L938.2,242.7L928.0,244.8L923.5,245.2L925.5,237.3L932.6,233.6L925.0,223.7L923.0,222.0L923.5,214.9L909.8,210.0L908.0,203.1L905.4,197.1L905.9,192.8L905.9,185.1Z" fill="#f38cf1" stroke="#f38cf1" stroke-width="0.8" aria-label="RU"/>
<path d="M934.9,97.7L945.7,101.5L957.7,105.3L966.3,104.2L972.8,99.9L976.1,93.0L992.6,93.0L990.7,102.1L985.8,100.5L981.5,98.8L979.3,101.0L975,105.3L969,111.3L968.5,115.1L970.1,119.4L967.4,123.7L962,121.6L955.5,117.8L952.2,119.4L953.3,123.7L957.7,128.6L956.6,131.3L953.3,131.9L949,129.2L944.7,124.8L942.5,119.4L943.6,112.9L941.4,106.4L937.1,101Z" fill="#fefefe" stroke="#fefefe" stroke-width="0.3"/>
<path d="M879.0,273.9L881.1,268.8L882.6,269.0L881.3,265.5L885.9,258.5L888.9,254.9L886.4,249.7L893.5,246.4L904.7,248.9L914.8,250.5L921.7,251.3L923.5,245.2L928.0,244.8L938.2,242.7L941.3,248.1L946.3,253.7L947.3,258.5L957.0,259.3L959.5,262.4L970.2,264.7L968.2,270.1L968.7,277.7L961.1,280.3L960.6,283.7L953.4,286.6L945.8,289.2L944.3,291.0L943.3,291.7L945.8,295.7L952.4,296.4L946.3,298.9L939.2,303.2L936.2,302.1L931.6,296.4L937.2,291.0L933.1,291.0L928.6,287.4L922.7,288.5L920.4,291.0L917.1,296.4L909.8,295.7L913.6,289.6L919.4,288.8L918.6,285.9L914.6,277.3L910.8,275.8L906.7,273.6L901.6,275.1L893.0,278.8L882.8,277.0Z" fill="#f18bf0" stroke="#f18bf0" stroke-width="0.8" aria-label="UA"/>
<path d="M901.6,275.1L906.7,273.6L910.8,275.8L914.6,277.3L918.6,285.9L919.4,288.8L913.6,289.6L909.8,295.7L909.2,285.2L904.7,278.5Z" fill="#f08af0" stroke="#f08af0" stroke-width="0.8" aria-label="MD"/>
<path d="M885.9,229.3L887.9,237.3L884.4,243.2L886.6,244.8L886.4,249.7L893.5,246.4L904.7,248.9L914.8,250.5L921.7,251.3L923.5,245.2L925.5,237.3L932.6,233.6L925.0,223.7L923.0,222.0L923.5,214.9L909.8,210.0L901.6,214.0L902.6,217.6L897.6,221.1L896.3,226.3Z" fill="#ef8aef" stroke="#ef8aef" stroke-width="0.8" aria-label="BY"/>
<path d="M846.5,300.3L846.8,297.5L852.4,297.1L857.9,298.2L863.0,300.0L864.8,299.6L863.5,303.9L866.1,306.0L864.0,309.5L861.5,311.2L860.2,315.7L856.2,313.6L854.4,310.9L851.3,307.4L848.8,304.6Z" fill="#ee89ee" stroke="#ee89ee" stroke-width="0.8" aria-label="BA"/>
<path d="M860.5,317.0L860.2,315.7L861.5,311.2L864.0,309.5L869.9,314.0L868.4,316.0L866.1,315.7L864.5,318.4L864.8,320.8Z" fill="#ee89ee" stroke="#ee89ee" stroke-width="0.8" aria-label="ME"/>
<path d="M864.8,320.8L864.5,318.4L866.1,315.7L868.4,316.0L871.1,320.8L870.6,324.5L873.2,327.5L871.4,332.4L868.1,335.1L865.1,331.1L864.5,328.8L865.3,323.8Z" fill="#ee89ee" stroke="#ee89ee" stroke-width="0.8" aria-label="AL"/>
<path d="M863.0,300.0L865.1,297.5L863.0,295.3L862.5,292.5L869.4,290.7L875.7,297.5L875.2,300.0L880.5,301.1L881.8,304.6L880.0,307.4L883.3,311.5L880.8,314.0L880.0,317.7L876.2,318.1L871.1,320.8L868.4,316.0L869.9,314.0L864.0,309.5L866.1,306.0L863.5,303.9L864.8,299.6Z" fill="#ea87ed" stroke="#ea87ed" stroke-width="0.8" aria-label="RS"/>
<path d="M881.8,304.6L891.0,307.7L898.6,306.3L903.7,304.9L911.5,307.7L908.2,311.5L906.2,316.4L908.7,319.8L903.7,319.4L900.4,321.8L899.1,324.1L895.0,324.8L891.0,322.8L883.1,324.1L880.0,317.7L880.8,314.0L883.3,311.5L880.0,307.4Z" fill="#e886ed" stroke="#e886ed" stroke-width="0.8" aria-label="BG"/>
<path d="M873.4,210.7L873.2,204.0L876.0,197.1L881.3,195.2L883.8,198.9L886.4,202.7L890.5,199.9L890.2,194.1L895.0,192.3L901.1,197.1L905.4,197.1L908.0,203.1L909.8,210.0L901.6,214.0L893.0,207.2L878.3,207.7Z" fill="#e785ed" stroke="#e785ed" stroke-width="0.8" aria-label="LV"/>
<path d="M835.6,295.7L835.6,298.2L837.1,300.3L839.1,296.8L842.2,298.9L843.7,303.9L847.8,309.5L850.1,309.5L855.4,312.9L860.5,317.0L856.2,313.6L854.4,310.9L851.3,307.4L848.8,304.6L846.5,300.3L846.8,297.5L852.4,297.1L857.9,298.2L863.0,300.0L865.1,297.5L863.0,295.3L862.5,292.5L856.4,292.1L850.6,288.1L846.0,290.3L844.2,295.3L840.7,295.3Z" fill="#e685ec" stroke="#e685ec" stroke-width="0.8" aria-label="HR"/>
<path d="M869.4,290.7L874.2,288.8L878.3,280.3L882.8,277.0L893.0,278.8L901.6,275.1L904.7,278.5L909.2,285.2L909.8,295.7L917.1,296.4L916.9,300.0L912.0,304.6L911.5,307.7L903.7,304.9L898.6,306.3L891.0,307.7L881.8,304.6L880.5,301.1L875.2,300.0L875.7,297.5Z" fill="#e685ec" stroke="#e685ec" stroke-width="0.8" aria-label="RO"/>
<path d="M757.4,310.2L751.3,309.8L743.6,310.2L736.0,308.8L726.4,307.7L719.5,312.9L721.5,320.4L725.1,319.4L733.0,320.1L735.0,322.8L731.4,326.5L731.4,331.8L730.9,335.4L728.4,335.4L730.9,339.6L729.4,343.5L730.9,344.8L728.7,351.1L734.0,354.0L734.5,355.5L738.1,358.7L744.1,354.3L755.3,354.0L758.4,349.9L762.9,348.6L765.0,342.9L767.5,341.2L765.0,336.4L770.1,328.5L777.7,323.8L782.8,320.4L783.3,317.7L782.5,316.7L775.1,316.4L770.1,314.3L762.9,313.6Z M778.7,335.7L782.2,333.4L784.0,334.7L782.2,337.7Z M785.8,332.8L788.3,333.8L786.1,333.8Z M772.9,339.6L774.6,339.0L773.9,340.6Z" fill="#e584ec" stroke="#e584ec" stroke-width="0.8" aria-label="ES"/>
<path d="M721.5,320.4L722.3,326.5L721.3,331.8L718.7,337.4L718.2,341.2L719.8,343.2L721.8,343.5L721.8,346.7L720.8,352.4L726.4,352.4L728.7,351.1L730.9,344.8L729.4,343.5L730.9,339.6L728.4,335.4L730.9,335.4L731.4,331.8L731.4,326.5L735.0,322.8L733.0,320.1L725.1,319.4Z" fill="#e584ec" stroke="#e584ec" stroke-width="0.8" aria-label="PT"/>
<path d="M868.1,335.1L871.7,339.3L873.7,344.1L875.2,344.8L873.7,345.1L874.7,347.3L876.0,351.8L876.7,353.7L878.8,352.4L880.3,355.9L882.3,353.7L884.4,355.9L882.3,350.5L884.4,350.5L885.9,349.6L883.3,346.7L886.4,346.4L888.7,348.3L888.4,344.8L891.5,346.1L889.4,342.2L884.9,339.6L883.3,340.6L883.1,337.4L884.9,338.7L881.3,333.1L882.8,329.8L885.4,331.5L885.1,333.4L887.4,333.1L890.5,332.1L887.4,328.5L890.5,327.1L898.1,327.5L898.8,328.1L900.4,324.8L900.4,321.8L899.1,324.1L895.0,324.8L891.0,322.8L883.1,324.1L877.8,325.8L873.2,327.5L871.4,332.4Z M885.9,361.8L886.4,363.3L892.0,365.2L900.1,364.9L900.1,363.0L893.5,362.4L888.9,361.2Z M907.7,358.7L909.8,356.2L908.7,359.0Z M898.1,338.3L901.4,337.7L900.6,339.6Z M898.1,342.5L899.3,344.1L898.3,344.8Z M901.6,347.7L903.7,347.7L902.6,348.3Z M893.0,346.7L893.5,348.0L892.5,347.7Z M895.5,351.8L896.5,351.8L896.0,352.7Z M895.0,355.9L896.0,356.2L895.5,356.5Z M890.5,354.3L891.2,354.3L890.7,354.9Z M894.0,349.2L895.0,349.6L894.5,350.2Z M866.3,334.7L867.8,336.7L868.6,337.0L867.6,334.4Z M870.6,343.8L872.2,345.4L871.1,345.7Z M893.5,333.4L895.8,333.8L894.5,334.4Z M891.2,328.1L892.2,328.8L891.5,329.1Z" fill="#e484ec" stroke="#e484ec" stroke-width="0.8" aria-label="GR"/>
<path d="M804.6,307.5L808.2,306.0L811.7,303.2L816.3,305.3L818.3,306.7L819.8,313.3L822.9,317.0L828.5,321.4L832.5,324.8L838.1,327.5L842.7,331.8L846.8,333.8L848.3,339.6L846.0,346.1L848.3,346.5L850.6,343.5L853.6,340.0L850.3,334.7L852.4,330.1L853.9,329.8L857.9,333.4L859.7,334.4L860.5,332.1L857.7,328.8L852.1,325.5L847.3,322.5L848.8,320.4L844.2,320.4L841.2,319.1L838.6,316.7L835.6,309.1L830.3,305.6L829.0,300.3L829.0,296.4L833.0,294.3L836.4,294.3L835.6,291.0L836.1,288.1L829.5,286.6L828.5,284.1L822.4,285.9L819.6,285.2L819.3,287.7L813.7,288.8L812.2,292.8L809.4,289.6L806.6,292.1L802.3,292.5L800.3,298.2L802.1,298.9L801.6,303.2L805.6,304.9Z M829.7,347.3L832.0,345.4L834.3,345.1L845.5,344.3L843.2,349.2L844.2,352.4L843.2,354.4L839.1,352.4L835.1,350.5Z M807.9,329.1L808.7,325.8L813.2,324.8L816.0,327.1L815.8,333.1L815.0,338.7L812.2,339.6L809.4,339.6L809.2,333.8Z" fill="#e383eb" stroke="#e383eb" stroke-width="0.8" aria-label="IT"/>
<path d="M848.3,285.5L850.3,280.7L853.6,277.0L857.4,278.8L862.0,278.5L863.0,276.6L870.6,273.2L879.0,273.9L882.8,277.0L878.3,280.3L874.2,288.8L869.4,290.7L862.5,292.5L856.4,292.1L850.6,288.1Z" fill="#e081ea" stroke="#e081ea" stroke-width="0.8" aria-label="HU"/>
<path d="M852.6,272.4L853.9,270.5L858.4,268.6L862.3,265.5L865.6,264.7L868.1,267.8L878.3,266.3L881.1,268.8L879.0,273.9L870.6,273.2L863.0,276.6L862.0,278.5L857.4,278.8L853.6,277.0Z" fill="#de80ea" stroke="#de80ea" stroke-width="0.8" aria-label="SK"/>
<path d="M836.4,294.3L835.6,291.0L836.1,288.1L840.7,288.8L848.3,285.5L850.6,288.1L846.0,290.3L844.2,295.3L840.7,295.3L835.6,295.7Z" fill="#de80ea" stroke="#de80ea" stroke-width="0.8" aria-label="SI"/>
<path d="M828.0,259.3L832.3,258.5L836.6,255.9L839.1,253.3L841.7,254.9L842.7,253.7L848.8,256.5L852.4,258.5L856.4,259.3L857.9,261.2L862.3,265.5L858.4,268.6L853.9,270.5L852.6,272.4L848.3,271.3L842.7,269.4L841.2,272.4L836.6,270.9L830.8,265.9L830.3,262.4Z" fill="#d97ee9" stroke="#d97ee9" stroke-width="0.8" aria-label="CZ"/>
<path d="M873.4,210.7L873.7,214.0L874.5,218.0L882.3,221.1L882.3,225.9L885.9,229.3L896.3,226.3L897.6,221.1L902.6,217.6L901.6,214.0L893.0,207.2L878.3,207.7Z" fill="#d97ee9" stroke="#d97ee9" stroke-width="0.8" aria-label="LT"/>
<path d="M803.1,235.2L803.6,231.9L807.1,231.4L810.2,229.7L811.7,228.9L810.7,225.4L810.2,221.1L816.8,222.0L817.3,224.6L822.4,225.4L821.9,228.9L827.5,227.2L830.0,225.0L834.6,222.8L836.1,223.7L836.6,228.0L838.6,229.7L839.7,234.8L838.4,238.6L840.7,240.7L841.2,244.8L842.4,251.3L841.7,254.9L839.1,253.3L836.6,255.9L832.3,258.5L828.0,259.3L830.3,262.4L830.8,265.9L836.6,270.9L834.8,272.8L831.3,276.2L832.8,280.7L828.5,280.0L822.4,281.5L819.8,280.3L815.3,280.3L810.2,278.8L805.1,280.1L805.1,276.2L808.2,269.6L802.1,267.8L799.0,265.7L797.5,260.8L797.0,255.7L797.5,251.3L798.0,246.8L801.0,246.0L802.3,243.6L802.3,240.3Z" fill="#d87de8" stroke="#d87de8" stroke-width="0.8" aria-label="DE"/>
<path d="M795.7,265.1L797.5,260.4L799.5,263.2L798.8,265.7Z" fill="#d87de8" stroke="#d87de8" stroke-width="0.8" aria-label="LU"/>
<path d="M783.5,250.7L785.3,247.2L786.8,245.6L789.9,239.8L790.6,237.8L793.9,235.7L798.0,233.6L803.1,235.2L802.3,240.3L802.3,243.6L801.0,246.0L798.0,246.8L797.5,251.3L797.0,255.7L795.2,255.3L796.2,252.5L791.9,249.9L788.1,250.7Z" fill="#d27ae6" stroke="#d27ae6" stroke-width="0.8" aria-label="NL"/>
<path d="M815.3,280.3L819.8,280.3L822.4,281.5L828.5,280.0L832.8,280.7L831.3,276.2L834.8,272.8L836.6,270.9L841.2,272.4L842.7,269.4L848.3,271.3L852.6,272.4L853.6,277.0L850.3,280.7L848.3,285.5L840.7,288.8L836.1,288.1L829.5,286.6L828.5,284.1L822.4,285.9L819.6,285.2L815.0,284.1Z" fill="#d078e5" stroke="#d078e5" stroke-width="0.8" aria-label="AT"/>
<path d="M890.2,194.1L891.0,189.5L885.9,186.1L885.4,181.2L892.2,178.8L898.6,177.3L908.7,178.8L905.9,185.1L905.9,192.8L905.4,197.1L901.1,197.1L895.0,192.3Z M877.8,190.0L878.3,187.1L883.3,187.1L884.9,188.5L881.8,190.9Z M878.8,183.7L882.8,183.2L881.3,185.6Z" fill="#ca74e2" stroke="#ca74e2" stroke-width="0.8" aria-label="EE"/>
<path d="M838.6,229.7L847.8,226.7L852.9,222.8L860.0,222.0L861.5,225.9L866.1,225.0L882.3,225.9L885.9,229.3L887.9,237.3L884.4,243.2L886.6,244.8L886.4,249.7L888.9,254.9L885.9,258.5L881.3,265.5L882.6,269.0L878.3,266.3L868.1,267.8L865.6,264.7L862.3,265.5L857.9,261.2L856.4,259.3L852.4,258.5L848.8,256.5L842.7,253.7L841.7,254.9L842.4,251.3L841.2,244.8L840.7,240.7L838.4,238.6L839.7,234.8Z" fill="#c671e0" stroke="#c671e0" stroke-width="0.8" aria-label="PL"/>
<path d="M779.5,253.1L783.5,250.7L788.1,250.7L791.9,249.9L796.2,252.5L795.2,255.3L797.0,255.7L797.5,260.8L796.0,265.1L791.1,260.4L787.8,262.0L787.6,259.3L782.8,255.7Z" fill="#c571e0" stroke="#c571e0" stroke-width="0.8" aria-label="BE"/>
<path d="M651.2,132.6L658.8,132.0L663.4,136.0L670.0,137.1L676.1,133.7L685.2,129.1L692.3,125.7L697.4,118.6L696.9,112.6L691.3,106.4L692.3,102.1L684.2,100.2L678.1,105.2L673.5,104.6L670.5,108.9L663.9,105.2L662.9,111.4L657.8,113.2L658.3,107.1L652.7,101.1L648.1,104.0L645.6,105.8L642.0,112.6L649.7,112.0L654.7,113.8L655.8,118.0L651.7,118.6L644.6,120.4L653.2,121.6L655.2,126.8L651.2,129.7Z" fill="#b467d9" stroke="#b467d9" stroke-width="0.5" aria-label="IS"/>
<path d="M837.1,91.2L832.5,104.0L830.0,112.6L823.9,119.8L817.3,130.3L809.7,137.1L802.1,142.7L793.4,152.5L791.9,163.0L792.4,173.3L793.4,180.2L794.9,186.1L800.0,191.9L803.1,192.8L808.2,191.4L814.8,184.2L819.8,181.2L820.3,176.3L822.9,182.2L826.4,180.2L827.0,175.3L830.5,168.2L828.5,163.0L832.0,159.4L829.0,156.7L828.0,149.2L827.5,138.2L831.0,130.3L837.1,129.7L839.1,117.4L840.7,105.2L845.2,102.7L849.8,91.2Z" fill="#9c5cce" stroke="#9c5cce" stroke-width="0.5" aria-label="NO"/>
<path d="M779.5,253.1L774.6,254.9L774.4,260.0L767.5,264.0L767.0,265.5L760.4,266.7L759.9,264.0L756.8,264.0L758.4,272.0L751.3,270.9L742.4,273.9L744.7,278.5L752.3,280.7L755.3,283.7L760.4,290.3L760.9,295.3L760.1,302.5L757.4,310.2L762.9,313.6L770.1,314.3L775.1,316.4L782.5,316.7L781.7,312.2L786.3,309.5L790.9,310.5L793.9,311.2L798.0,312.6L801.6,309.8L804.6,307.5L805.6,304.9L801.6,303.2L802.1,298.9L800.3,298.2L802.3,292.5L801.0,288.8L797.7,290.7L797.5,287.7L801.6,282.2L802.1,280.7L805.1,280.1L805.1,276.2L808.2,269.6L802.1,267.8L799.0,265.7L796.0,265.1L791.1,260.4L787.8,262.0L787.6,259.3L782.8,255.7Z M814.3,312.9L815.0,319.1L813.2,324.0L810.2,320.4L810.2,317.0L813.7,315.0Z" fill="#7f49be" stroke="#7f49be" stroke-width="0.5" aria-label="FR"/>
<path d="M822.9,182.2L823.9,189.0L827.0,195.7L830.0,203.1L832.0,208.6L831.0,211.3L832.5,216.7L838.6,216.7L839.7,212.2L846.8,210.4L849.8,205.0L851.3,194.7L852.4,187.1L857.4,184.2L859.5,179.7L862.5,173.8L855.9,168.2L853.6,160.4L855.9,150.3L865.6,140.9L873.7,137.7L872.7,133.1L875.2,119.8L880.8,110.1L889.2,108.9L886.6,102.7L887.9,96.4L886.9,91.2L849.8,91.2L845.2,102.7L840.7,105.2L839.1,117.4L837.1,129.7L831.0,130.3L827.5,138.2L828.0,149.2L829.0,156.7L832.0,159.4L828.5,163.0L830.5,168.2L827.0,175.3L826.4,180.2Z M859.0,202.2L858.4,197.5L863.0,193.3L862.0,199.4Z M849.8,209.1L852.9,198.9L851.6,205.0Z" fill="#7b45bb" stroke="#7b45bb" stroke-width="0.5" aria-label="SE"/>
<path d="M734.2,244.0L735.3,239.8L735.5,234.8L735.0,231.4L734.8,228.0L733.0,228.4L728.9,227.6L725.1,225.0L728.1,222.4L729.7,219.8L728.9,217.1L724.3,218.9L722.8,222.8L724.8,224.1L722.8,226.3L715.7,226.7L715.2,233.1L720.8,235.7L718.2,239.8L716.2,242.3L713.7,244.8L714.7,247.7L716.7,250.1L723.3,248.5L728.4,245.2L733.0,244.4Z" fill="#6b3aae" stroke="#6b3aae" stroke-width="0.5" aria-label="IE"/>
<path d="M810.2,221.1L807.6,215.3L807.6,206.8L810.2,201.3L816.8,196.6L820.3,195.2L819.8,200.3L818.8,205.0L821.9,207.7L818.8,210.4L817.3,214.9L821.4,214.9L821.9,219.8L817.3,220.2L815.3,220.6L816.8,222.0Z M822.1,213.6L826.4,211.3L829.5,210.4L831.0,214.0L830.0,218.4L828.5,222.8L824.4,223.7L822.1,221.5L823.9,217.6Z M841.2,219.3L841.7,217.6L843.5,218.9L843.0,220.2Z" fill="#5a34a1" stroke="#5a34a1" stroke-width="0.5" aria-label="DK"/>
<path d="M734.8,228.0L738.6,226.3L738.8,223.3L737.5,222.4L736.0,218.4L731.4,218.4L729.7,219.8L728.1,222.4L725.1,225.0L728.9,227.6L733.0,228.4Z" fill="#47298f" stroke="#47298f" stroke-width="0.5" aria-label="NI"/>
<path d="M889.2,108.9L893.5,115.0L888.4,125.7L877.5,137.1L873.7,146.0L875.2,158.9L875.2,169.2L879.8,171.7L883.3,174.8L893.5,171.2L901.1,169.2L907.7,167.7L911.3,163.0L917.4,156.7L925.5,143.8L927.0,142.7L919.4,136.0L918.9,124.5L916.9,118.6L916.9,111.4L919.4,110.1L914.3,95.1L915.9,91.2L886.9,91.2L887.9,96.4L886.6,102.7Z M866.6,172.2L869.6,169.2L868.6,173.3Z" fill="#46298f" stroke="#46298f" stroke-width="0.5" aria-label="FI"/>
<path d="M737.5,261.2L741.1,258.5L743.4,253.7L750.8,252.1L752.8,249.3L750.2,250.5L745.2,249.3L739.6,248.1L739.6,246.4L745.7,243.2L745.7,238.2L742.4,239.0L744.1,236.1L743.1,234.0L750.8,234.4L751.3,229.7L748.2,224.6L751.3,220.6L741.6,223.3L740.6,220.2L743.1,215.8L741.6,212.2L738.1,217.6L737.5,209.5L735.0,205.0L737.5,198.5L737.0,194.2L741.1,187.1L751.3,186.6L746.2,193.8L746.2,196.6L756.3,195.7L757.4,198.0L755.8,200.8L753.8,206.3L751.8,208.6L749.7,211.3L756.3,213.1L758.9,220.2L760.9,223.7L765.5,227.2L767.0,232.3L768.0,236.5L767.5,237.8L775.1,239.8L774.6,244.8L771.1,248.9L773.6,250.9L773.1,252.9L768.0,255.7L759.9,255.7L756.3,256.9L751.3,256.1L748.2,260.0L745.2,258.9L740.6,261.6Z M735.0,188.0L730.4,190.9L730.9,194.7L734.5,192.8Z M729.9,195.7L728.4,201.3L729.9,201.3Z M734.5,195.7L732.5,198.5L736.5,201.3L737.5,199.4Z M759.9,164.6L757.9,170.2L759.9,174.3L761.4,169.2Z M749.7,182.2L752.8,180.2L752.8,184.6L750.2,184.6Z" fill="#371e85" stroke="#371e85" stroke-width="0.5" aria-label="GB"/>
<path d="M805.1,280.1L810.2,278.8L815.3,280.3L815.0,284.1L819.6,285.2L819.3,287.7L813.7,288.8L812.2,292.8L809.4,289.6L806.6,292.1L802.3,292.5L801.0,288.8L797.7,290.7L797.5,287.7L801.6,282.2L802.1,280.7Z" fill="#c57fe0" stroke="#c57fe0" stroke-width="0.6"/>
<path d="M805.4,280.8L810.0,279.6L814.5,281.0L814.3,284.3L818.4,285.3L818.2,287.6L813.2,288.6L811.8,292.2L809.3,289.2L806.8,291.5L802.9,291.9L801.7,288.6L798.8,290.2L798.5,287.6L802.2,282.6L802.7,281.3Z" fill="#2f1a78" stroke="#2f1a78" stroke-width="0.5" aria-label="CH"/>
<path d="M868.4,316.0L869.9,314.0L871.4,311.9L873.9,311.2L877.0,315.0L876.2,318.1L873.7,318.4L871.1,320.8L870.6,318.4Z" fill="#f5f5f5" stroke="#f5f5f5" stroke-width="0.8" aria-label="XK"/>
<path d="M871.1,320.8L876.2,318.1L880.0,317.7L883.1,324.1L877.8,325.8L873.2,327.5L870.6,324.5Z" fill="#f5f5f5" stroke="#f5f5f5" stroke-width="0.8" aria-label="MK"/>
<path d="M931.6,366.1L934.1,364.5L940.7,362.4L938.7,365.8L934.1,367.3Z" fill="#3a2a6a" stroke="none"/>
<path d="M886.4,363.3L892.0,365.2L900.1,364.9L904.7,362.1L909.2,358.4" fill="none" stroke="#e07fe9" stroke-width="0.9"/>
</g></svg>
<div class="lgbar" style="left:594.7px;top:361px;width:114.2px"></div>
<div class="lgt" style="left:571.5px;top:359.2px">0.5</div>
<div class="lgt" style="left:715.5px;top:359.2px">221.9</div>
<div class="cap" style="left:674px;top:409.2px;width:300px"><span class="zhi" style="width:11.50px;height:11.50px;font-size:11.50px">每</span><span class="capn">&nbsp;100,000&nbsp;</span><span class="zhi" style="width:138.00px;height:11.50px;font-size:11.50px">名成年人的估计每月搜索量</span></div>
<div class="card" style="left:566.5px;top:432px;width:515px;height:640px"></div>
<span class="zh " style="left:583.20px;top:451.60px;width:27.50px;height:13.75px;font-size:13.75px">瑞士</span>
<div class="num" style="left:1005.4000000000001px;top:452.30px;width:60px">222</div>
<div class="track" style="left:582.6px;top:470.80px;width:482.8px"><i style="width:446.6px"></i></div>
<span class="zh " style="left:583.20px;top:485.74px;width:27.50px;height:13.75px;font-size:13.75px">英国</span>
<div class="num" style="left:1005.4000000000001px;top:486.44px;width:60px">220</div>
<div class="track" style="left:582.6px;top:504.94px;width:482.8px"><i style="width:442.6px"></i></div>
<span class="zh " style="left:583.20px;top:519.88px;width:27.50px;height:13.75px;font-size:13.75px">芬兰</span>
<div class="num" style="left:1005.4000000000001px;top:520.58px;width:60px">199</div>
<div class="track" style="left:582.6px;top:539.08px;width:482.8px"><i style="width:400.3px"></i></div>
<span class="zh " style="left:583.20px;top:554.02px;width:27.50px;height:13.75px;font-size:13.75px">丹麦</span>
<div class="num" style="left:1005.4000000000001px;top:554.72px;width:60px">179</div>
<div class="track" style="left:582.6px;top:573.22px;width:482.8px"><i style="width:360.1px"></i></div>
<span class="zh " style="left:583.20px;top:588.16px;width:41.25px;height:13.75px;font-size:13.75px">爱尔兰</span>
<div class="num" style="left:1005.4000000000001px;top:588.86px;width:60px">170</div>
<div class="track" style="left:582.6px;top:607.36px;width:482.8px"><i style="width:342.0px"></i></div>
<span class="zh " style="left:583.20px;top:622.30px;width:27.50px;height:13.75px;font-size:13.75px">瑞典</span>
<div class="num" style="left:1005.4000000000001px;top:623.00px;width:60px">154</div>
<div class="track" style="left:582.6px;top:641.50px;width:482.8px"><i style="width:309.8px"></i></div>
<span class="zh " style="left:583.20px;top:656.44px;width:27.50px;height:13.75px;font-size:13.75px">法国</span>
<div class="num" style="left:1005.4000000000001px;top:657.14px;width:60px">148</div>
<div class="track" style="left:582.6px;top:675.64px;width:482.8px"><i style="width:297.7px"></i></div>
<span class="zh " style="left:583.20px;top:690.58px;width:27.50px;height:13.75px;font-size:13.75px">挪威</span>
<div class="num" style="left:1005.4000000000001px;top:691.28px;width:60px">127</div>
<div class="track" style="left:582.6px;top:709.78px;width:482.8px"><i style="width:255.5px"></i></div>
<span class="zh " style="left:583.20px;top:724.72px;width:27.50px;height:13.75px;font-size:13.75px">冰岛</span>
<div class="num" style="left:1005.4000000000001px;top:725.42px;width:60px">107</div>
<div class="track" style="left:582.6px;top:743.92px;width:482.8px"><i style="width:215.2px"></i></div>
<span class="zh " style="left:583.20px;top:758.86px;width:41.25px;height:13.75px;font-size:13.75px">比利时</span>
<div class="num" style="left:1005.4000000000001px;top:759.56px;width:60px">106</div>
<div class="track" style="left:582.6px;top:778.06px;width:482.8px"><i style="width:213.2px"></i></div>
<span class="zh " style="left:583.20px;top:793.00px;width:27.50px;height:13.75px;font-size:13.75px">波兰</span>
<div class="num" style="left:1005.4000000000001px;top:793.70px;width:60px">86</div>
<div class="track" style="left:582.6px;top:812.20px;width:482.8px"><i style="width:173.0px"></i></div>
<span class="zh " style="left:583.20px;top:827.14px;width:55.00px;height:13.75px;font-size:13.75px">爱沙尼亚</span>
<div class="num" style="left:1005.4000000000001px;top:827.84px;width:60px">82</div>
<div class="track" style="left:582.6px;top:846.34px;width:482.8px"><i style="width:165.0px"></i></div>
<span class="zh " style="left:583.20px;top:861.28px;width:41.25px;height:13.75px;font-size:13.75px">奥地利</span>
<div class="num" style="left:1005.4000000000001px;top:861.98px;width:60px">76</div>
<div class="track" style="left:582.6px;top:880.48px;width:482.8px"><i style="width:152.9px"></i></div>
<span class="zh " style="left:583.20px;top:895.42px;width:27.50px;height:13.75px;font-size:13.75px">荷兰</span>
<div class="num" style="left:1005.4000000000001px;top:896.12px;width:60px">73</div>
<div class="track" style="left:582.6px;top:914.62px;width:482.8px"><i style="width:146.9px"></i></div>
<span class="zh " style="left:583.20px;top:929.56px;width:27.50px;height:13.75px;font-size:13.75px">德国</span>
<div class="num" style="left:1005.4000000000001px;top:930.26px;width:60px">67</div>
<div class="track" style="left:582.6px;top:948.76px;width:482.8px"><i style="width:134.8px"></i></div>
<span class="zh " style="left:583.20px;top:963.70px;width:41.25px;height:13.75px;font-size:13.75px">立陶宛</span>
<div class="num" style="left:1005.4000000000001px;top:964.40px;width:60px">65</div>
<div class="track" style="left:582.6px;top:982.90px;width:482.8px"><i style="width:130.8px"></i></div>
<span class="zh " style="left:583.20px;top:997.84px;width:68.75px;height:13.75px;font-size:13.75px">捷克共和国</span>
<div class="num" style="left:1005.4000000000001px;top:998.54px;width:60px">65</div>
<div class="track" style="left:582.6px;top:1017.04px;width:482.8px"><i style="width:130.8px"></i></div>
</div>
</body></html>
